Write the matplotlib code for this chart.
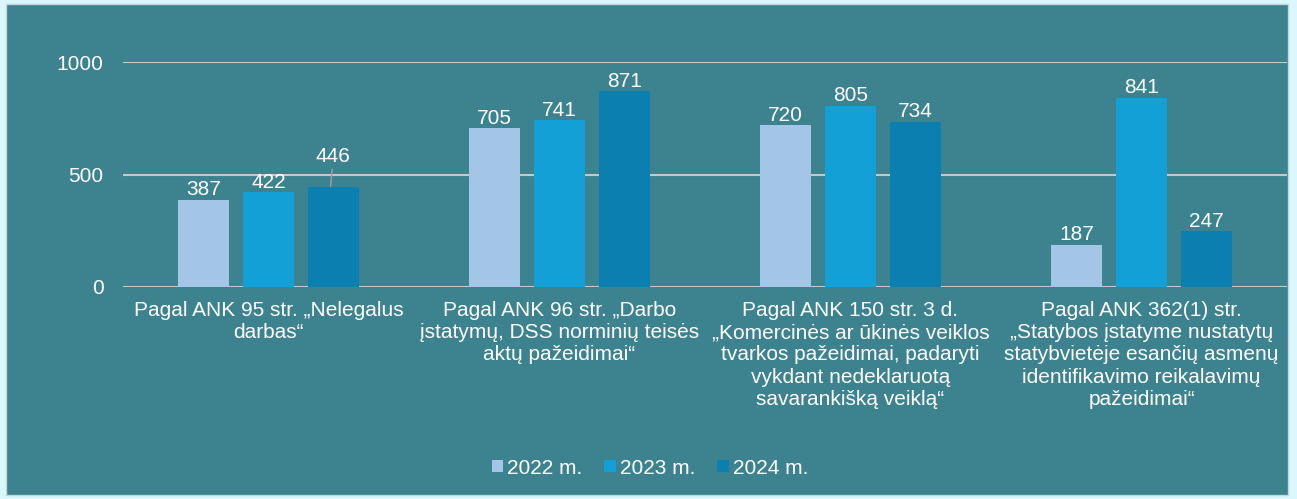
import numpy as np
import matplotlib
matplotlib.use("Agg")
import matplotlib.pyplot as plt
from matplotlib.patches import Rectangle

plt.rcParams['font.family'] = ['Liberation Sans', 'DejaVu Sans']

categories = [
    "Pagal ANK 95 str. „Nelegalus\ndarbas“",
    "Pagal ANK 96 str. „Darbo\nįstatymų, DSS norminių teisės\naktų pažeidimai“",
    "Pagal ANK 150 str. 3 d.\n„Komercinės ar ūkinės veiklos\ntvarkos pažeidimai, padaryti\nvykdant nedeklaruotą\nsavarankišką veiklą“",
    "Pagal ANK 362(1) str.\n„Statybos įstatyme nustatytų\nstatybvietėje esančių asmenų\nidentifikavimo reikalavimų\npažeidimai“",
]
series_names = ["2022 m.", "2023 m.", "2024 m."]
v2022 = [387, 705, 720, 187]
v2023 = [422, 741, 805, 841]
v2024 = [446, 871, 734, 247]
yticks = [0, 500, 1000]

colors = ["#a3c6e6", "#13a0d7", "#0b80b0"]
teal = "#3c828f"
W, H = 1297, 499
fs = 15

fig = plt.figure(figsize=(W / 100, H / 100), dpi=100)
fig.patch.set_facecolor("#d9f7fc")
fig.patches.append(Rectangle((6 / W, 4 / H), 1282 / W, 491 / H, transform=fig.transFigure,
                             facecolor=teal, edgecolor="#c8d4d6", linewidth=1, zorder=-1))

ax = fig.add_axes([123 / W, 1 - 287 / H, 1164 / W, 225 / H])
ax.set_zorder(2)
ax.set_facecolor("none")
x = np.arange(len(categories))
bw = 0.175
step = 0.223
for i, (vals, name) in enumerate(zip([v2022, v2023, v2024], series_names)):
    bars = ax.bar(x + (i - 1) * step, vals, bw, color=colors[i], label=name, zorder=3)
    for b, v in zip(bars, vals):
        cx = b.get_x() + b.get_width() / 2
        if name == "2024 m." and v == 446:
            ax.annotate(str(v), xy=(cx - 0.01, v), xytext=(cx, v + 90), ha="center", va="bottom",
                        fontsize=fs, color="white",
                        arrowprops=dict(arrowstyle="-", color="#a0a0a0", lw=1, shrinkA=0, shrinkB=0))
        else:
            ax.text(cx, v + 2, str(v), ha="center", va="bottom", fontsize=fs, color="white", zorder=4)

ax.set_xlim(-0.5, len(categories) - 0.5)
ax.set_ylim(0, 1000)
ax.set_yticks(yticks)
ax.set_yticklabels([str(t) for t in yticks], fontsize=fs, color="white")
ax.tick_params(axis="y", length=0, pad=14)
ax.tick_params(axis="x", length=0, pad=10)
ax.set_xticks(x)
ax.set_xticklabels(categories, fontsize=fs, color="white", linespacing=1.22)
ax.yaxis.grid(True, color="#c8c8c8", linewidth=1.5, zorder=1)
ax.set_axisbelow(True)
for s in ax.spines.values():
    s.set_visible(False)

leg = fig.legend(loc="center", bbox_to_anchor=(650 / W, 1 - 468 / H), ncol=3, frameon=False,
                 fontsize=fs, handlelength=0.55, handleheight=0.55, handletextpad=0.2,
                 columnspacing=1.05, labelcolor="white")

fig.savefig("out.png", dpi=100, facecolor=fig.get_facecolor())
